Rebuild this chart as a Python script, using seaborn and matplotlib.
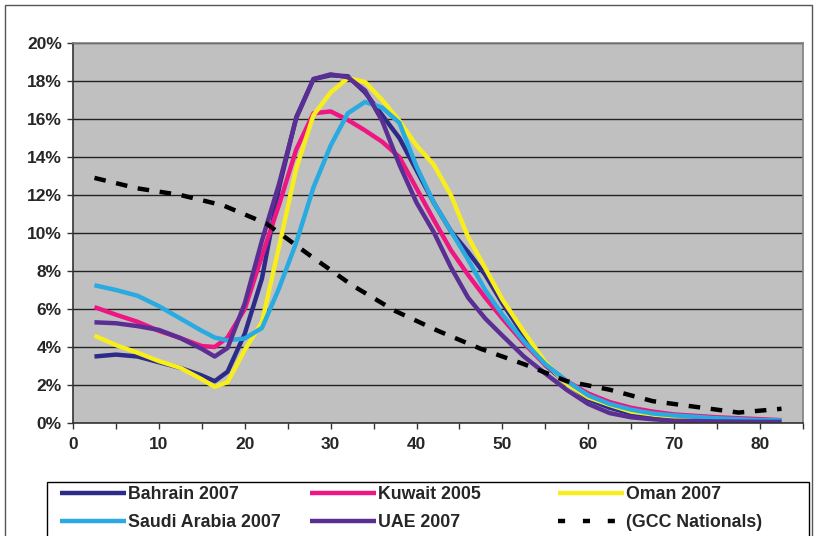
import numpy as np
import pandas as pd
import matplotlib
matplotlib.use("Agg")
import matplotlib.pyplot as plt
import seaborn as sns
from matplotlib.lines import Line2D
from matplotlib.patches import Rectangle
from matplotlib.ticker import MultipleLocator, FuncFormatter

# ---------------- data ----------------
ages = [2.5, 5, 7.5, 10, 12.5, 15, 16.5, 18, 20, 22, 24, 26, 28, 30, 32, 34, 36, 38,
        40, 42, 44, 46, 48, 50, 52.5, 55, 57.5, 60, 62.5, 65, 67.5, 70, 75, 80, 82.5]

bahrain_2007 = [3.5, 3.6, 3.5, 3.2, 2.9, 2.5, 2.2, 2.7, 4.7, 7.6, 12.4, 16.1, 18.1, 18.3,
                18.25, 17.4, 16.2, 15.0, 13.3, 11.6, 10.1, 9.0, 7.8, 6.3, 4.6, 3.05, 2.1,
                1.25, 0.8, 0.5, 0.35, 0.25, 0.15, 0.1, 0.1]
kuwait_2005 = [6.1, 5.7, 5.33, 4.85, 4.47, 4.05, 4.0, 4.5, 6.0, 8.8, 11.5, 14.4, 16.3, 16.4,
               15.95, 15.4, 14.8, 14.0, 12.35, 10.7, 9.1, 7.8, 6.6, 5.5, 4.2, 3.05, 2.2,
               1.55, 1.1, 0.8, 0.6, 0.45, 0.3, 0.2, 0.15]
oman_2007 = [4.6, 4.1, 3.7, 3.26, 2.9, 2.3, 1.9, 2.15, 3.85, 5.3, 9.3, 13.4, 16.2, 17.4,
             18.15, 17.95, 17.0, 15.9, 14.6, 13.6, 12.0, 9.8, 8.15, 6.5, 4.8, 3.2, 2.05,
             1.35, 0.95, 0.6, 0.45, 0.3, 0.2, 0.1, 0.1]
saudi_2007 = [7.25, 7.0, 6.7, 6.15, 5.5, 4.85, 4.5, 4.35, 4.45, 5.0, 7.1, 9.5, 12.4, 14.6,
              16.3, 16.9, 16.6, 15.8, 13.5, 11.6, 10.1, 8.6, 7.0, 5.7, 4.3, 3.1, 2.2,
              1.45, 1.0, 0.7, 0.5, 0.4, 0.25, 0.15, 0.15]
uae_2007 = [5.3, 5.25, 5.1, 4.9, 4.47, 3.9, 3.5, 3.95, 6.3, 9.6, 12.6, 16.05, 18.1, 18.35,
            18.2, 17.5, 15.9, 13.6, 11.6, 10.05, 8.2, 6.6, 5.5, 4.6, 3.5, 2.6, 1.74,
            1.0, 0.52, 0.3, 0.2, 0.12, 0.08, 0.06, 0.06]

gcc_ages = [2.5, 7.5, 12.5, 17.5, 22.5, 27.5, 32.5, 37.5, 42.5, 47.5, 52.5, 57.5,
            62.5, 67.5, 72.5, 77.5, 82.5]
gcc_nationals = [12.9, 12.35, 12.0, 11.45, 10.5, 8.85, 7.25, 5.9, 4.85, 3.9, 3.1, 2.2,
                 1.75, 1.15, 0.85, 0.55, 0.75]

series_names = ["Bahrain 2007", "Kuwait 2005", "Oman 2007", "Saudi Arabia 2007", "UAE 2007"]
series_values = [bahrain_2007, kuwait_2005, oman_2007, saudi_2007, uae_2007]
gcc_name = "(GCC Nationals)"

colors = {
    "Bahrain 2007": "#2E2B88",
    "Kuwait 2005": "#EE1683",
    "Oman 2007": "#F8EE1E",
    "Saudi Arabia 2007": "#29AAE1",
    "UAE 2007": "#5B2E93",
}

# ---------------- frame ----------------
rows = []
for name, vals in zip(series_names, series_values):
    for a, v in zip(ages, vals):
        rows.append({"age": a, "share": v / 100.0, "series": name})
df = pd.DataFrame(rows)
gcc_df = pd.DataFrame({"age": gcc_ages, "share": np.array(gcc_nationals) / 100.0})

# ---------------- figure ----------------
sns.set_style("white")
plt.rcParams["font.family"] = ["Liberation Sans", "DejaVu Sans"]

W, H = 817, 536
fig = plt.figure(figsize=(W / 100, H / 100), dpi=100)
fig.patch.set_facecolor("white")

L, R, T, B = 73, 803, 43, 423
ax = fig.add_axes([L / W, 1 - B / H, (R - L) / W, (B - T) / H])
ax.set_facecolor("#C0C0C0")

LW = 3.2
sns.lineplot(data=df, x="age", y="share", hue="series", hue_order=series_names,
             palette=colors, estimator=None, sort=False, linewidth=LW, ax=ax,
             legend=False)
sns.lineplot(data=gcc_df, x="age", y="share", color="black", estimator=None,
             sort=False, linewidth=LW, ax=ax, legend=False)
ax.lines[-1].set_dashes([2.6, 2.4])
for ln in ax.lines:
    ln.set_solid_capstyle("butt")
    ln.set_dash_capstyle("butt")
    ln.set_solid_joinstyle("round")

ax.set_xlim(0, 85)
ax.set_ylim(0, 0.20)
ax.xaxis.set_major_locator(MultipleLocator(10))
ax.xaxis.set_minor_locator(MultipleLocator(5))
ax.yaxis.set_major_locator(MultipleLocator(0.02))
ax.yaxis.set_major_formatter(FuncFormatter(lambda v, p: f"{v*100:.0f}%"))
ax.set_xlabel("")
ax.set_ylabel("")

ax.grid(axis="y", color="#222222", linewidth=1.0)
ax.grid(axis="x", visible=False)
ax.set_axisbelow(True)

for s in ["left", "bottom"]:
    ax.spines[s].set_color("#333333")
    ax.spines[s].set_linewidth(1.2)
for s in ["top", "right"]:
    ax.spines[s].set_color("#808080")
    ax.spines[s].set_linewidth(1.2)

tick_font = ["Liberation Sans Narrow", "Liberation Sans", "DejaVu Sans"]
ax.tick_params(axis="both", which="both", direction="out", length=4, width=1.0,
               color="#333333", left=True, bottom=True)
ax.tick_params(axis="x", which="major", pad=6)
ax.tick_params(axis="y", which="major", pad=4)
for lab in ax.get_xticklabels() + ax.get_yticklabels():
    lab.set_fontweight("bold")
    lab.set_family(tick_font)
    lab.set_fontsize(12.5)

# ---------------- outer frame and legend box ----------------
fig.patches.append(Rectangle((5 / W, -0.05), (812 - 5) / W, (H - 5) / H + 0.05,
                             transform=fig.transFigure, fill=False,
                             edgecolor="#555555", linewidth=1.0))
fig.patches.append(Rectangle((47 / W, -0.05), (809 - 47) / W, (H - 482) / H + 0.05,
                             transform=fig.transFigure, fill=False,
                             edgecolor="black", linewidth=1.0))

handles = {name: Line2D([], [], color=colors[name], linewidth=LW,
                        solid_capstyle="butt") for name in series_names}
handles[gcc_name] = Line2D([], [], color="black", linewidth=LW, dashes=[1.6, 4.0],
                           dash_capstyle="butt")

columns = [(["Bahrain 2007", "Saudi Arabia 2007"], 60),
           (["Kuwait 2005", "UAE 2007"], 310),
           (["Oman 2007", gcc_name], 558)]
for names, xpx in columns:
    leg = fig.legend([handles[n] for n in names], names, loc="upper left",
                     bbox_to_anchor=(xpx / W, 1 - 486 / H), frameon=False,
                     borderpad=0, borderaxespad=0, handlelength=3.7,
                     handletextpad=0.15, labelspacing=0.62,
                     prop={"weight": "bold", "size": 12.8})

fig.savefig("out.png", dpi=100, facecolor="white")
